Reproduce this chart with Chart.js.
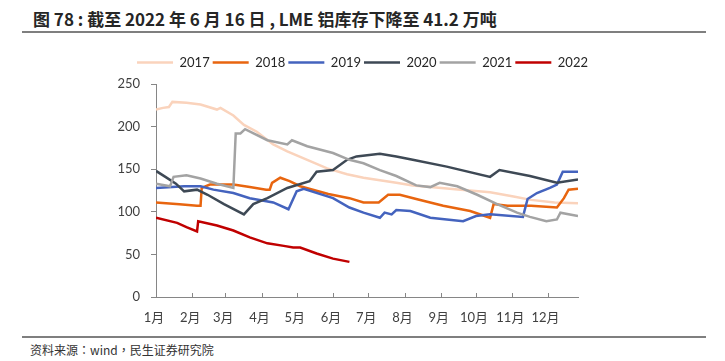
<!DOCTYPE html>
<html>
<head>
<meta charset="utf-8">
<script src="https://cdn.jsdelivr.net/npm/chart.js@4.4.1/dist/chart.umd.min.js"></script>
<style>
  body { margin: 0; background: #fff; width: 725px; height: 361px; position: relative; overflow: hidden; }
  .title { position: absolute; left: 33px; top: 6px; font: bold 17px "Noto Sans CJK SC", sans-serif; color: #262626; white-space: nowrap; }
  .source span { font-family: "Noto Sans CJK TC", sans-serif; }
  .rule { position: absolute; left: 22px; width: 684px; height: 2px; background: #7f7f7f; }
  .source { position: absolute; left: 30px; top: 341px; font: 12px "Noto Sans CJK SC", sans-serif; color: #333; white-space: nowrap; }
  #wrap { position: absolute; left: 0; top: 40px; width: 725px; height: 291px; }
</style>
</head>
<body>
<div class="title">图 78 : 截至 2022 年 6 月 16 日 , LME 铝库存下降至 41.2 万吨</div>
<div class="rule" style="top:31px"></div>
<div id="wrap"><canvas id="chart"></canvas></div>
<div class="rule" style="top:336px"></div>
<div class="source">资料来源<span>：</span>wind<span>，</span>民生证券研究院</div>

<script>
// day of year (x) and stock in 万吨 (y)
var years = ["2017", "2018", "2019", "2020", "2021", "2022"];
var colors = ["#FAD3BC", "#E8650F", "#4463BE", "#3E4955", "#A3A3A3", "#C00000"];

var days2017 = [0, 6, 11, 14, 26, 38, 52, 55, 66, 75, 86, 100, 112, 129, 146, 163, 177, 205, 219, 234, 260, 285, 305, 320, 340, 360];
var vals2017 = [220, 222, 223, 229, 228, 226, 220, 222, 213, 202, 194, 179, 171, 161, 151, 144, 140, 134, 131, 129, 126, 123, 118, 114, 111, 110];

var days2018 = [0, 20, 35, 38, 39, 46, 66, 80, 94, 97, 99, 106, 114, 123, 147, 165, 177, 190, 198, 208, 222, 245, 268, 285, 288, 300, 320, 342, 348, 352, 360];
var vals2018 = [111, 109, 107, 107, 128, 132, 132, 129, 126, 126, 134, 140, 136, 130, 121, 116, 111, 111, 120, 120, 115, 107, 101, 93, 109, 107, 107, 105, 116, 126, 127];

var days2019 = [0, 24, 38, 49, 66, 80, 100, 113, 120, 126, 151, 165, 177, 191, 195, 201, 205, 217, 234, 262, 273, 285, 313, 317, 325, 336, 342, 347, 360];
var vals2019 = [128, 130, 130, 126, 122, 116, 111, 103, 124, 127, 116, 105, 99, 93, 99, 97, 102, 101, 93, 89, 95, 97, 94, 115, 122, 128, 132, 147, 147];

var days2020 = [0, 8, 17, 24, 35, 44, 58, 75, 83, 95, 112, 131, 137, 151, 163, 171, 191, 205, 219, 248, 285, 293, 319, 342, 360];
var vals2020 = [148, 141, 133, 124, 126, 120, 109, 97, 109, 116, 128, 136, 147, 149, 161, 165, 168, 165, 161, 153, 141, 149, 142, 134, 138];

var days2021 = [0, 12, 15, 26, 38, 52, 66, 68, 72, 76, 95, 112, 116, 129, 151, 165, 177, 191, 205, 222, 234, 242, 257, 274, 291, 308, 319, 333, 342, 345, 360];
var vals2021 = [133, 130, 141, 143, 139, 133, 128, 192, 192, 197, 184, 179, 184, 177, 169, 161, 157, 149, 142, 131, 129, 134, 130, 120, 109, 99, 94, 89, 91, 99, 95];

var days2022 = [0, 18, 26, 35, 36, 52, 66, 80, 95, 109, 117, 123, 137, 151, 165];
var vals2022 = [93, 87, 82, 77, 89, 84, 78, 70, 63, 60, 58, 58, 51, 45, 41.2];

var monthStarts = [0, 31, 59, 90, 120, 151, 181, 212, 243, 273, 304, 334];
var monthLabels = ["1月", "2月", "3月", "4月", "5月", "6月", "7月", "8月", "9月", "10月", "11月", "12月"];

var allDays = [days2017, days2018, days2019, days2020, days2021, days2022];
var allVals = [vals2017, vals2018, vals2019, vals2020, vals2021, vals2022];

var FONT = "Lato, 'Noto Sans CJK SC', sans-serif";
var AXIS = "#868686";

var datasets = years.map(function(y, i) {
  return {
    label: y,
    data: allDays[i].map(function(d, j) { return { x: d, y: allVals[i][j] }; }),
    borderColor: colors[i],
    backgroundColor: colors[i],
    borderWidth: 2.5,
    pointRadius: 0,
    tension: 0,
    order: years.length - i
  };
});

// x ticks point inward (up) like the original
var innerTicks = {
  id: "innerTicks",
  afterDraw: function(chart) {
    var sx = chart.scales.x, ctx = chart.ctx, b = chart.chartArea.bottom;
    ctx.save();
    ctx.strokeStyle = AXIS;
    ctx.lineWidth = 1;
    sx.ticks.forEach(function(t) {
      if (t.value === 0) return;
      var px = Math.round(sx.getPixelForValue(t.value)) + 0.5;
      ctx.beginPath();
      ctx.moveTo(px, b);
      ctx.lineTo(px, b - 4);
      ctx.stroke();
    });
    ctx.restore();
  }
};

// a bit more room between legend and plot
var legendGap = {
  id: "legendGap",
  beforeLayout: function(chart) {
    var lg = chart.legend;
    if (!lg || lg._gapPatched) return;
    var fit = lg.fit;
    lg.fit = function() { fit.call(this); this.height += 5; };
    lg._gapPatched = true;
  }
};

new Chart(document.getElementById("chart"), {
  type: "line",
  data: { datasets: datasets },
  plugins: [innerTicks, legendGap],
  options: {
    responsive: true,
    maintainAspectRatio: false,
    animation: false,
    layout: { padding: { left: 0, right: 0, top: 13, bottom: 0 } },
    plugins: {
      tooltip: { enabled: false },
      legend: {
        position: "top",
        labels: {
          usePointStyle: true,
          pointStyle: "line",
          pointStyleWidth: 36,
          boxHeight: 13,
          padding: 3,
          color: "#262626",
          font: { family: FONT, size: 13 },
          sort: function(a, b) { return a.datasetIndex - b.datasetIndex; }
        }
      }
    },
    scales: {
      x: {
        type: "linear",
        min: 0,
        max: 360,
        afterBuildTicks: function(s) { s.ticks = monthStarts.map(function(v) { return { value: v }; }); },
        afterFit: function(s) { s.height = 34; },
        grid: { display: false },
        border: { display: true, color: AXIS, width: 1 },
        ticks: {
          autoSkip: false,
          maxRotation: 0,
          padding: 5,
          labelOffset: -2,
          color: "#404040",
          font: { family: FONT, size: 13 },
          callback: function(v) { var k = monthStarts.indexOf(v); return k < 0 ? "" : monthLabels[k]; }
        }
      },
      y: {
        min: 0,
        max: 250,
        afterFit: function(s) { s.width = 156; },
        grid: { drawOnChartArea: false, drawTicks: true, tickLength: 5, color: AXIS },
        border: { display: true, color: AXIS, width: 1 },
        ticks: {
          stepSize: 50,
          padding: 11,
          color: "#404040",
          font: { family: FONT, size: 13 }
        }
      },
      // empty right-hand box so the plot ends where the original does
      yRight: {
        position: "right",
        min: 0,
        max: 250,
        afterFit: function(s) { s.width = 147; },
        grid: { display: false },
        border: { display: false },
        ticks: { display: false }
      }
    }
  }
});
</script>
</body>
</html>
